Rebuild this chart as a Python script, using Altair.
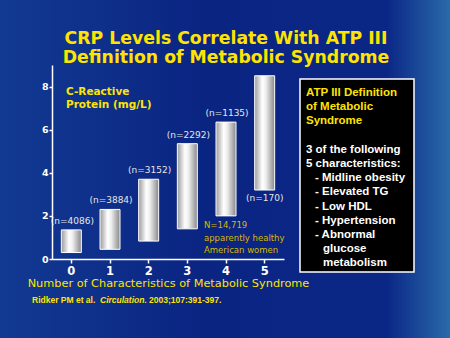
import altair as alt
import pandas as pd

# ---- data ----
n_chars = ["0", "1", "2", "3", "4", "5"]
crp_low = [0.3, 0.45, 0.83, 1.4, 2.0, 3.2]
crp_high = [1.35, 2.3, 3.7, 5.35, 6.35, 8.5]
n_labels = ["(n=4086)", "(n=3884)", "(n=3152)", "(n=2292)", "(n=1135)", "(n=170)"]
label_above = [True, True, True, True, True, False]

title_lines = ["CRP Levels Correlate With ATP III", "Definition of Metabolic Syndrome"]
y_title_lines = ["C-Reactive", "Protein (mg/L)"]
x_title = "Number of Characteristics of Metabolic Syndrome"
note_lines = ["N=14,719", "apparently healthy", "American women"]
box_head = ["ATP III Definition", "of Metabolic", "Syndrome"]
box_intro = ["3 of the following", "5 characteristics:"]
box_items = ["- Midline obesity", "- Elevated TG", "- Low HDL", "- Hypertension", "- Abnormal"]
box_cont = ["glucose", "metabolism"]
cite_parts = ["Ridker PM et al.", "Circulation.", "2003;107:391-397."]

df = pd.DataFrame({"n": n_chars, "low": crp_low, "high": crp_high,
                   "lab": n_labels, "above": label_above})
one = pd.DataFrame({"k": [0]})

W, H = 232, 194
YELLOW = "#FFE400"

bg = alt.Chart(one).mark_rect(
    color=alt.Gradient(gradient="linear", x1=0, x2=1, y1=0, y2=0,
                       stops=[alt.GradientStop(color="#123a92", offset=0),
                              alt.GradientStop(color="#0a2482", offset=0.45),
                              alt.GradientStop(color="#0b2786", offset=0.86),
                              alt.GradientStop(color="#2a6aaa", offset=1)])
).encode(x=alt.value(-52), x2=alt.value(398), y=alt.value(-65), y2=alt.value(273))

xenc = alt.X("n:O", scale=alt.Scale(paddingInner=0, paddingOuter=0),
             axis=alt.Axis(title=x_title, labelAngle=0, labelColor="white", zindex=1,
                           labelFont="DejaVu Sans", labelFontWeight="bold", labelFontSize=11.5,
                           domainColor="white", domainWidth=1.5, tickColor="white", tickSize=4,
                           tickWidth=1.5, labelPadding=2,
                           titleColor=YELLOW, titleFont="DejaVu Sans", titleFontWeight="normal",
                           titleFontSize=11.3, titlePadding=1))
yscale = alt.Scale(domain=[0, 9], nice=False)

bars = alt.Chart(df).mark_bar(
    size=20, stroke="white", strokeWidth=1,
    color=alt.Gradient(gradient="linear", x1=0, x2=1, y1=0, y2=0,
                       stops=[alt.GradientStop(color="#9a9a9a", offset=0),
                              alt.GradientStop(color="#ffffff", offset=0.38),
                              alt.GradientStop(color="#f0f0f0", offset=0.55),
                              alt.GradientStop(color="#888888", offset=1)])
).encode(
    x=xenc,
    y=alt.Y("low:Q", scale=yscale,
            axis=alt.Axis(title=None, values=[0, 1, 2, 3, 4, 5, 6, 7, 8], zindex=1,
                          labelExpr="datum.value % 2 == 0 ? datum.label : ''",
                          labelColor="white", labelFont="DejaVu Sans", labelFontWeight="bold",
                          labelFontSize=9.5, labelPadding=1, grid=False,
                          domainColor="white", domainWidth=1.5, tickColor="white",
                          tickSize=3, tickWidth=1.5)),
    y2="high:Q",
)

lab_top = alt.Chart(df).transform_filter("datum.above").mark_text(
    font="DejaVu Sans", fontSize=9, color="#e6e6e6", dy=-6, dx=1, baseline="alphabetic"
).encode(x="n:O", y=alt.Y("high:Q", scale=yscale), text="lab:N")
lab_bot = alt.Chart(df).transform_filter("!datum.above").mark_text(
    font="DejaVu Sans", fontSize=9, color="#e6e6e6", dy=4, baseline="top"
).encode(x="n:O", y=alt.Y("low:Q", scale=yscale), text="lab:N")


def txt(lines, x, y, size, color, weight="normal", font="DejaVu Sans", align="left",
        lh=None, style="normal"):
    return alt.Chart(one).mark_text(
        text="\n".join(lines), lineBreak="\n", lineHeight=lh or size * 1.2,
        font=font, fontSize=size, fontWeight=weight, color=color, align=align,
        baseline="alphabetic", fontStyle=style
    ).encode(x=alt.value(x), y=alt.value(y))


title = txt(title_lines, 174, -21, 17.3, YELLOW, "bold", align="center", lh=19)
ytitle = txt(y_title_lines, 14, 30, 10.5, YELLOW, "bold", lh=13)
note = txt(note_lines, 152, 163, 8.5, "#d8b800", lh=12.7)

box = alt.Chart(one).mark_rect(fill="black", stroke="white", strokeWidth=1.5).encode(
    x=alt.value(248), x2=alt.value(362), y=alt.value(14), y2=alt.value(207))
LH = 14.2
FB = "Liberation Sans"
bhead = txt(box_head, 254, 31, 11.5, YELLOW, "bold", font=FB, lh=LH)
bintro = txt(box_intro, 254, 31 + 4 * LH, 11.5, "white", "bold", font=FB, lh=LH)
bitems = txt(box_items, 263, 31 + 6 * LH, 11.5, "white", "bold", font=FB, lh=LH)
bcont = txt(box_cont, 271, 31 + 11 * LH, 11.5, "white", "bold", font=FB, lh=LH)

c1 = txt([cite_parts[0]], -20, 238, 8.5, YELLOW, "bold", font=FB)
c2 = txt([cite_parts[1]], 48, 238, 8.5, YELLOW, "bold", font=FB, style="italic")
c3 = txt([cite_parts[2]], 97, 238, 8.5, YELLOW, "bold", font=FB)

chart = alt.layer(
    bg, bars, lab_top, lab_bot, title, ytitle, note,
    box, bhead, bintro, bitems, bcont, c1, c2, c3
).properties(
    width=W, height=H,
    autosize=alt.AutoSizeParams(type="none"),
    padding={"left": 52, "top": 65, "right": 166, "bottom": 79},
    background="#0a2482",
).configure_view(stroke=None)

chart.save("out.html", embed_options={"renderer": "svg", "actions": False})
